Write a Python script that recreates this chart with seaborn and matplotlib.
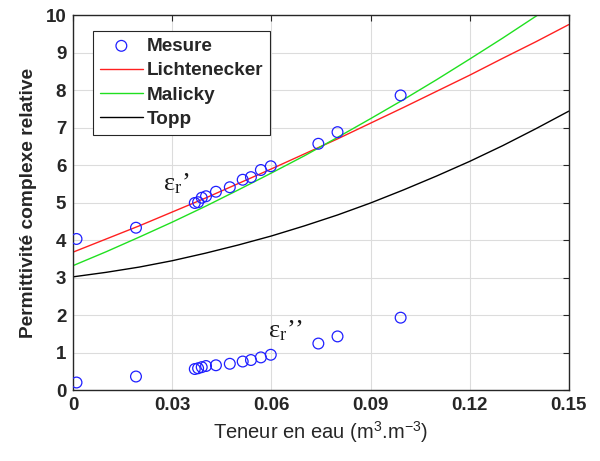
import matplotlib
matplotlib.use("Agg")
import matplotlib.pyplot as plt
import seaborn as sns
import pandas as pd

# measured points (water content, eps' and eps'')
teneur = [0.0010, 0.0190, 0.0368, 0.0378, 0.0389, 0.0402, 0.0432, 0.0474,
          0.0513, 0.0538, 0.0568, 0.0598, 0.0742, 0.0800, 0.0991]
eps_reel = [4.03, 4.33, 4.99, 5.01, 5.13, 5.17, 5.29, 5.41,
            5.61, 5.68, 5.87, 5.97, 6.57, 6.88, 7.86]
eps_imag = [0.20, 0.36, 0.56, 0.58, 0.61, 0.64, 0.66, 0.70,
            0.76, 0.80, 0.87, 0.94, 1.24, 1.43, 1.93]

# model curves
theta = [0.00, 0.01, 0.02, 0.03, 0.04, 0.05, 0.06, 0.07,
         0.08, 0.09, 0.10, 0.11, 0.12, 0.13, 0.14, 0.15]
lichtenecker = [3.68, 4.03, 4.38, 4.75, 5.12, 5.51, 5.90, 6.30,
                6.70, 7.12, 7.54, 7.97, 8.40, 8.85, 9.29, 9.75]
malicky = [3.32, 3.69, 4.08, 4.48, 4.90, 5.34, 5.79, 6.25,
           6.74, 7.24, 7.75, 8.28, 8.83, 9.39, 9.97, 10.57]
topp = [3.02, 3.14, 3.28, 3.45, 3.65, 3.87, 4.11, 4.38,
        4.67, 4.99, 5.34, 5.71, 6.10, 6.52, 6.97, 7.44]

sns.set_theme(style="whitegrid")
plt.rcParams["font.family"] = ["Liberation Sans", "DejaVu Sans"]
plt.rcParams["mathtext.fontset"] = "custom"
plt.rcParams["mathtext.rm"] = "Liberation Serif"

mesures = pd.DataFrame({"x": teneur + teneur, "y": eps_reel + eps_imag})
modeles = pd.DataFrame({"x": theta, "Lichtenecker": lichtenecker,
                        "Malicky": malicky, "Topp": topp})

fig = plt.figure(figsize=(6, 4.61), dpi=100)
ax = fig.add_axes([0.122, 0.154, 0.826, 0.813])
ax.set_facecolor("white")

sns.scatterplot(data=mesures, x="x", y="y", ax=ax, marker="o", s=60,
                facecolor="none", edgecolor="#1f1fff", linewidth=0.9,
                label="Mesure", zorder=3)
for nom, col in [("Lichtenecker", "#ff2020"), ("Malicky", "#20e020"), ("Topp", "#000000")]:
    sns.lineplot(data=modeles, x="x", y=nom, ax=ax, color=col, linewidth=1.0,
                 label=nom)

ax.set_xlim(0, 0.15)
ax.set_ylim(0, 10)
ax.set_xticks([0, 0.03, 0.06, 0.09, 0.12, 0.15])
ax.set_xticklabels(["0", "0.03", "0.06", "0.09", "0.12", "0.15"])
ax.set_yticks(range(0, 11))
ax.grid(True, color="#dcdcdc", linewidth=0.8)
for s in ax.spines.values():
    s.set_color("#262626")
    s.set_linewidth(1.0)
ax.tick_params(axis="both", direction="in", length=4, width=0.8, color="#262626",
               top=True, right=True, labelsize=13.5, pad=5)
for lab in ax.get_xticklabels() + ax.get_yticklabels():
    lab.set_fontweight("bold")
    lab.set_color("#262626")

ax.set_xlabel("Teneur en eau (m$^\\mathregular{3}$.m$^\\mathregular{-3}$)", fontsize=14.5,
              color="#262626", labelpad=4)
ax.set_ylabel("Permittivité complexe relative", fontsize=13.8, fontweight="bold",
              color="#262626", labelpad=6)

ax.text(0.0272, 5.33, r"$\mathrm{ε_r}$’", fontsize=19, family="Liberation Serif",
        color="#1a1a1a")
ax.text(0.0590, 1.41, r"$\mathrm{ε_r}$’’", fontsize=19, family="Liberation Serif",
        color="#1a1a1a")

leg = ax.legend(loc="upper left", bbox_to_anchor=(0.040, 0.958), borderaxespad=0,
                fancybox=False, framealpha=1, edgecolor="#262626",
                prop={"weight": "bold", "size": 13.6}, handlelength=2.3,
                labelspacing=0.38, handletextpad=0.2, borderpad=0.35)
leg.get_frame().set_linewidth(0.8)

fig.savefig("out.png", dpi=100)
